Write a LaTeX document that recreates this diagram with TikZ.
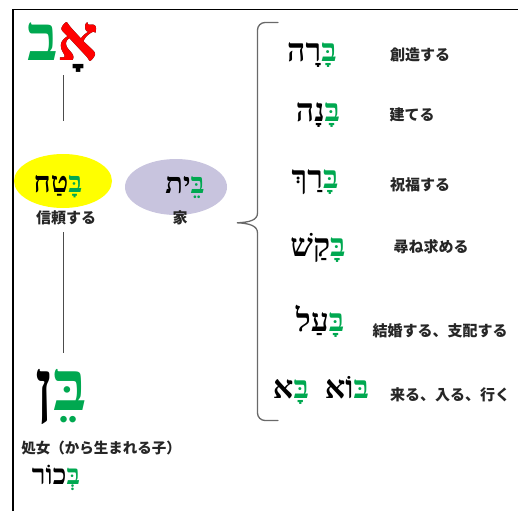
\documentclass[tikz,border=0pt]{standalone}
\usepackage{fontspec}
\usetikzlibrary{shapes.geometric}
\newfontfamily\heb[Script=Hebrew]{Liberation Serif}
\newfontfamily\jp{Noto Sans CJK JP}
\definecolor{hgreen}{RGB}{0,168,80}
\definecolor{hred}{RGB}{255,0,0}
\definecolor{hyellow}{RGB}{255,255,0}
\definecolor{hlav}{RGB}{200,196,222}
\definecolor{bracecol}{RGB}{105,105,105}
\tikzset{
  hebbig/.style={font=\heb\bfseries\fontsize{64}{70}\selectfont, inner sep=0pt, anchor=base},
  hebmid/.style={font=\heb\bfseries\fontsize{29}{32}\selectfont, inner sep=0pt, anchor=base},
  hebr/.style={font=\heb\bfseries\fontsize{32}{36}\selectfont, inner sep=0pt, anchor=base},
  hebsm/.style={font=\heb\bfseries\fontsize{28}{32}\selectfont, inner sep=0pt, anchor=base},
  jplab/.style={font=\jp\bfseries\fontsize{15}{17}\selectfont, inner sep=0pt, text=black!85},
  blob/.style={ellipse, draw=none, inner sep=0pt},
  tree/.style={draw=black!70, line width=0.8pt},
}
\newcommand{\gb}[1]{{\color{hgreen}#1}}
\begin{document}
\begin{tikzpicture}[x=1pt,y=-1pt]
\useasboundingbox (0,0) rectangle (518,511);
% ellipses
\node[blob, fill=hyellow, minimum width=98pt, minimum height=54pt] (e1) at (63,181) {};
\node[blob, fill=hlav, minimum width=102pt, minimum height=56pt] (e2) at (176,187) {};
% left column
\node[hebbig] (av) at (63,60) {\gb{ב}\rlap{אָ}{\color{hred}א}};
\node[hebmid] (batach) at (58,192) {טַח\gb{בָּ}};
\node[hebmid] (bayit) at (185,193) {ית\gb{בֵּ}};
\node[jplab] (trust) at (66,218) {信頼する};
\node[jplab] (house) at (180,218) {家};
\node[hebbig, font=\heb\bfseries\fontsize{70}{76}\selectfont] (ben) at (61,410) {ן\gb{בֵּ}};
\node[jplab, font=\jp\bfseries\fontsize{14.5}{16}\selectfont] (virgin) at (101,448) {処女（から生まれる子）};
\node[hebsm] (bekhor) at (56,484) {כוֹר\gb{בְּ}};
\coordinate (l1a) at (63,75);
\coordinate (l1b) at (63,121);
\coordinate (l2a) at (63,232);
\coordinate (l2b) at (63,353);
\draw[tree] (l1a) -- (l1b);
\draw[tree] (l2a) -- (l2b);
% right column
\node[hebr] (bara) at (312,61) {רָה\gb{בָּ}};
\node[hebr] (bana) at (318,121) {נָה\gb{בָּ}};
\node[hebr] (barakh) at (315,188) {רַךְ\gb{בָּ}};
\node[hebr] (baqash) at (318,256) {קַשׁ\gb{בָּ}};
\node[hebr] (baal) at (320,331) {עַל\gb{בָּ}};
\node[hebr] (bo) at (321,398) {א\gb{בָּ}\ \ וֹא\gb{בּ}};
\node[jplab] (t1) at (420,55) {創造する};
\node[jplab] (t2) at (412,115) {建てる};
\node[jplab] (t3) at (420,185) {祝福する};
\node[jplab] (t4) at (431,247) {尋ね求める};
\node[jplab] (t5) at (440,331) {結婚する、支配する};
\node[jplab] (t6) at (450,395) {来る、入る、行く};
% brace
\coordinate (bt) at (278,22.5);
\coordinate (bb) at (278,420.5);
\coordinate (tip) at (237,222.8);
\draw[bracecol, line width=1.3pt, line cap=round]
  (bt) -- (265,22.5) to[out=180,in=90] (257.5,30) -- (257.5,213)
  .. controls (257.5,220) and (250,222.3) .. (tip)
  .. controls (250,223.3) and (257.5,226) .. (257.5,233)
  -- (257.5,413) to[out=-90,in=180] (265,420.5) -- (bb);
% frame
\draw[line width=1.6pt] (13,511) -- (13,9.5) -- (518,9.5);
\end{tikzpicture}
\end{document}
